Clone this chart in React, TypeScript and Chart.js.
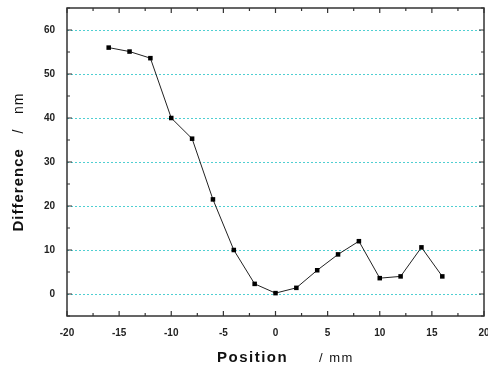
import React, { useEffect, useRef } from "react";
import { Chart, registerables } from "chart.js";

Chart.register(...registerables);

const positions = [-16, -14, -12, -10, -8, -6, -4, -2, 0, 2, 4, 6, 8, 10, 12, 14, 16];
const differences = [56, 55.1, 53.6, 40, 35.3, 21.5, 10, 2.3, 0.2, 1.4, 5.4, 9, 12, 3.6, 4, 10.6, 4];
const xTicks = [-20, -15, -10, -5, 0, 5, 10, 15, 20];
const yTicks = [0, 10, 20, 30, 40, 50, 60];

const FONT = "'Liberation Sans', Arial, sans-serif";

const gridPlugin = {
  id: "cyanGrid",
  beforeDatasetsDraw(chart: any) {
    const { ctx, chartArea: a, scales } = chart;
    ctx.save();
    ctx.strokeStyle = "#4fcfd2";
    ctx.lineWidth = 1;
    ctx.setLineDash([2, 2]);
    for (const v of yTicks) {
      const py = Math.round(scales.y.getPixelForValue(v)) + 0.5;
      ctx.beginPath();
      ctx.moveTo(a.left, py);
      ctx.lineTo(a.right, py);
      ctx.stroke();
    }
    ctx.restore();
  },
};

const framePlugin = {
  id: "frameTicks",
  afterDraw(chart: any) {
    const { ctx, chartArea: a, scales } = chart;
    const xs = scales.x;
    const ys = scales.y;
    ctx.save();
    ctx.strokeStyle = "#333";
    ctx.lineWidth = 1.5;
    ctx.strokeRect(a.left, a.top, a.right - a.left, a.bottom - a.top);
    ctx.lineWidth = 1.2;
    ctx.beginPath();
    for (let v = -20; v <= 20; v += 2.5) {
      const px = xs.getPixelForValue(v);
      const len = v % 5 === 0 ? 5 : 3;
      ctx.moveTo(px, a.bottom);
      ctx.lineTo(px, a.bottom - len);
      ctx.moveTo(px, a.top);
      ctx.lineTo(px, a.top + len);
    }
    for (let v = -5; v <= 65; v += 5) {
      const py = ys.getPixelForValue(v);
      const len = v % 10 === 0 ? 5 : 3;
      ctx.moveTo(a.left, py);
      ctx.lineTo(a.left + len, py);
      ctx.moveTo(a.right, py);
      ctx.lineTo(a.right - len, py);
    }
    ctx.stroke();

    // axis titles
    ctx.fillStyle = "#111";
    ctx.textBaseline = "middle";
    ctx.textAlign = "left";
    const bottomY = 358;
    ctx.font = `bold 15px ${FONT}`;
    (ctx as any).letterSpacing = "1.5px";
    ctx.fillText("Position", 217, bottomY);
    ctx.font = `13px ${FONT}`;
    (ctx as any).letterSpacing = "1.5px";
    ctx.fillText("/ mm", 319, bottomY);

    ctx.translate(19, 162);
    ctx.rotate(-Math.PI / 2);
    const t1 = "Difference";
    const t2 = "   /   nm";
    ctx.font = `bold 15px ${FONT}`;
    (ctx as any).letterSpacing = "1px";
    const w1 = ctx.measureText(t1).width;
    ctx.font = `14px ${FONT}`;
    (ctx as any).letterSpacing = "1px";
    const w2 = ctx.measureText(t2).width;
    const start = -(w1 + w2) / 2;
    ctx.font = `bold 15px ${FONT}`;
    ctx.fillText(t1, start, 0);
    ctx.font = `14px ${FONT}`;
    ctx.fillText(t2, start + w1, 0);
    ctx.restore();
  },
};

export default function App() {
  const ref = useRef<HTMLCanvasElement>(null);
  useEffect(() => {
    document.body.style.margin = "0";
    const chart = new Chart(ref.current!, {
      type: "line",
      data: {
        datasets: [
          {
            data: positions.map((x, i) => ({ x, y: differences[i] })),
            borderColor: "#222",
            borderWidth: 1,
            backgroundColor: "#000",
            pointStyle: "rect",
            pointRadius: 3.2,
            pointBorderWidth: 0,
            tension: 0,
          },
        ],
      },
      options: {
        animation: false,
        responsive: false,
        maintainAspectRatio: false,
        layout: { padding: { top: 8, right: 3, left: 0, bottom: 0 } },
        plugins: { legend: { display: false }, tooltip: { enabled: false } },
        scales: {
          x: {
            type: "linear",
            min: -20,
            max: 20,
            afterBuildTicks: (s: any) => {
              s.ticks = xTicks.map((v) => ({ value: v }));
            },
            afterFit: (s: any) => {
              s.height = 53;
              s.paddingLeft = 0;
              s.paddingRight = 0;
            },
            grid: { display: false, drawTicks: false },
            border: { display: false },
            ticks: {
              padding: 11,
              color: "#222",
              font: { size: 10, weight: "bold", family: FONT },
              maxRotation: 0,
            },
          },
          y: {
            type: "linear",
            min: -5,
            max: 65,
            afterBuildTicks: (s: any) => {
              s.ticks = yTicks.map((v) => ({ value: v }));
            },
            afterFit: (s: any) => {
              s.width = 67;
              s.paddingTop = 0;
              s.paddingBottom = 0;
            },
            grid: { display: false, drawTicks: false },
            border: { display: false },
            ticks: {
              padding: 12,
              color: "#222",
              font: { size: 10, weight: "bold", family: FONT },
            },
          },
        },
      },
      plugins: [gridPlugin, framePlugin],
    });
    return () => chart.destroy();
  }, []);
  return <canvas ref={ref} width={488} height={369} style={{ display: "block" }} />;
}
